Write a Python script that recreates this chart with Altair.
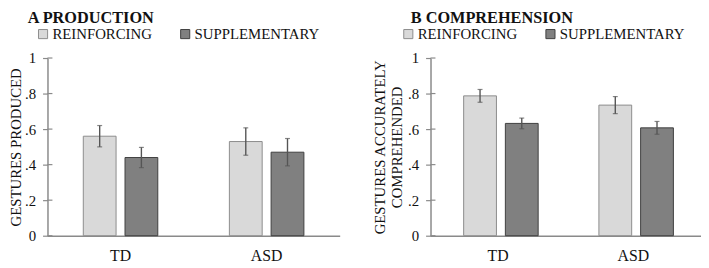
import altair as alt
import pandas as pd

groups = ["TD", "ASD"]
types = ["REINFORCING", "SUPPLEMENTARY"]
# order: TD-reinforcing, TD-supplementary, ASD-reinforcing, ASD-supplementary
prod_mean = [0.56, 0.44, 0.53, 0.47]
prod_err = [0.06, 0.057, 0.077, 0.077]
comp_mean = [0.787, 0.632, 0.735, 0.607]
comp_err = [0.036, 0.030, 0.048, 0.036]
y_ticks = [0, 0.2, 0.4, 0.6, 0.8, 1.0]

FONT = "Liberation Serif, Times New Roman, Times, DejaVu Serif, serif"
AXIS_GRAY = "#8a8a8a"
fills = ["#d9d9d9", "#808080"]
strokes = ["#8c8c8c", "#3f3f3f"]


def make_df(means, errs):
    rows = []
    i = 0
    for g in groups:
        for t in types:
            rows.append(dict(group=g, type=t, mean=means[i],
                             lo=means[i] - errs[i], hi=means[i] + errs[i]))
            i += 1
    return pd.DataFrame(rows)


label_expr = ("datum.value == 0 ? '0' : datum.value == 1 ? '1' : "
              "replace(format(datum.value, '.1f'), '0.', '.')")


def panel(df, title, ytitle, width, legend_x, title_pad):
    xenc = alt.X("group:N", sort=groups, title=None,
                 scale=alt.Scale(paddingInner=0.49, paddingOuter=0.245),
                 axis=alt.Axis(labelAngle=0, ticks=False, labelPadding=12,
                               labelFontSize=16, labelColor="#111",
                               labelFont=FONT, domainColor=AXIS_GRAY,
                               domainWidth=1.5))
    xoff = alt.XOffset("type:N", sort=types,
                       scale=alt.Scale(paddingInner=0.214, paddingOuter=0))
    yscale = alt.Scale(domain=[0, 1])
    yaxis = alt.Axis(values=y_ticks, labelExpr=label_expr, labelOverlap=False,
                     grid=False, tickSize=5, tickColor=AXIS_GRAY,
                     tickWidth=1.2, domainColor=AXIS_GRAY,
                     domainWidth=1.5, labelFontSize=15,
                     labelFont=FONT, labelColor="#111",
                     labelPadding=7, titleFont=FONT,
                     titleFontSize=15, titleFontWeight="normal",
                     titleColor="#111", titlePadding=title_pad,
                     titleLineHeight=17)
    yenc = alt.Y("mean:Q", scale=yscale, title=ytitle, axis=yaxis)
    legend = alt.Legend(title=None, orient="none", legendX=legend_x,
                        legendY=-32, direction="horizontal",
                        symbolType="square", symbolSize=85,
                        symbolStrokeWidth=1, labelFont=FONT,
                        labelFontSize=15, labelColor="#111",
                        labelOffset=2, columnPadding=26)
    color = alt.Color("type:N", sort=types,
                      scale=alt.Scale(domain=types, range=fills),
                      legend=legend)
    stroke = alt.Stroke("type:N", sort=types,
                        scale=alt.Scale(domain=types, range=strokes),
                        legend=legend)

    bars = alt.Chart(df).mark_bar(strokeWidth=1).encode(
        x=xenc, xOffset=xoff, y=yenc, color=color, stroke=stroke)

    err = alt.Chart(df).mark_rule(color="#555555", strokeWidth=1.4).encode(
        x=alt.X("group:N", sort=groups), xOffset=alt.XOffset("type:N", sort=types),
        y=alt.Y("lo:Q", scale=yscale, title=ytitle, axis=yaxis), y2="hi:Q")

    caps = alt.Chart(df).transform_fold(["lo", "hi"], as_=["k", "v"]).mark_tick(
        color="#555555", size=5, thickness=1.2).encode(
        x=alt.X("group:N", sort=groups), xOffset=alt.XOffset("type:N", sort=types),
        y=alt.Y("v:Q", scale=yscale, title=ytitle, axis=yaxis))

    stubs = alt.Chart(pd.DataFrame({"t": y_ticks})).mark_rule(
        color=AXIS_GRAY, strokeWidth=1.2).encode(
        y=alt.Y("t:Q", scale=yscale, title=ytitle, axis=yaxis),
        x=alt.value(0), x2=alt.value(5))

    return alt.layer(bars, err, caps, stubs).properties(
        width=width, height=180,
        title=alt.Title(title, anchor="start", frame="group", dx=-20,
                        font=FONT, fontSize=16.5, fontWeight="bold",
                        color="#111", offset=0),
    )


pA = panel(make_df(prod_mean, prod_err), "A PRODUCTION",
           "GESTURES PRODUCED", 296, -12, 1)
pB = panel(make_df(comp_mean, comp_err), "B COMPREHENSION",
           ["GESTURES ACCURATELY", "COMPREHENDED"], 274, -30, 3)

chart = alt.hconcat(pA, pB, spacing=33).resolve_scale(
    color="independent", stroke="independent").properties(
    padding=0).configure(font=FONT).configure_view(stroke=None)

chart.save("out.html", embed_options={"renderer": "svg", "actions": False})
